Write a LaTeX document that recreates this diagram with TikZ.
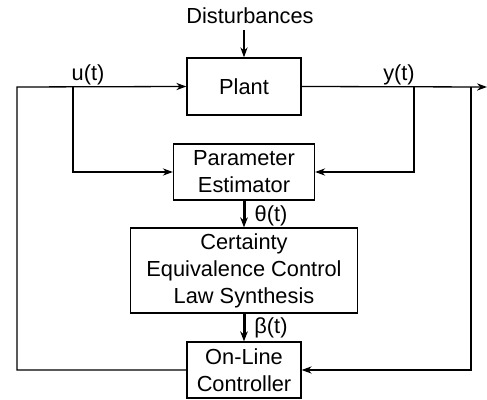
\documentclass[tikz,border=0pt]{standalone}
\usepackage{fontspec}
\setmainfont{Liberation Sans}
\usetikzlibrary{arrows.meta}
\begin{document}
\begin{tikzpicture}[x=0.5pt,y=-0.5pt,
  txt/.style={font=\fontsize{10.9}{13.5}\selectfont},
  block/.style={draw, line width=0.65pt, align=center, inner sep=0pt, txt},
  lbl/.style={inner sep=0pt, txt},
  conn/.style={line width=0.65pt, -{Stealth[length=5pt,width=3.6pt]}},
  thickconn/.style={line width=1.5pt, -{Stealth[length=5pt,width=3.8pt]}}]
\useasboundingbox (0,0) rectangle (487,400);
\node[block, minimum width=57pt, minimum height=28.5pt] (plant) at (244,86.5) {Plant};
\node[block, minimum width=70.5pt, minimum height=28pt] (pe) at (244,172) {Parameter\\Estimator};
\node[block, minimum width=113.5pt, minimum height=42.5pt] (ce) at (244,270.5) {Certainty\\Equivalence Control\\Law Synthesis};
\node[block, minimum width=57pt, minimum height=28pt] (ctrl) at (244,370) {On-Line\\Controller};
\node[lbl] (dist) at (250,16) {Disturbances};
\node[lbl] (ulbl) at (88,75) {u(t)};
\node[lbl] (ylbl) at (399,75) {y(t)};
\node[lbl] (th) at (271,216) {θ(t)};
\node[lbl] (be) at (271,328) {β(t)};
\coordinate (dtop) at (244,30);
\coordinate (lc) at (17,87);
\coordinate (ub) at (73,87);
\coordinate (yb) at (414,87);
\coordinate (fb) at (471,87);
\coordinate (out) at (487,87);
\draw[conn] (dtop) -- (plant.north);
\draw[conn] (ctrl.west) -| (lc) -- (plant.west);
\draw[conn] (ub) |- (pe.west);
\draw[conn] (plant.east) -- (out);
\draw[conn] (yb) |- (pe.east);
\draw[conn] (fb) |- (ctrl.east);
\draw[thickconn] (pe.south) -- (ce.north);
\draw[thickconn] (ce.south) -- (ctrl.north);
\end{tikzpicture}
\end{document}
